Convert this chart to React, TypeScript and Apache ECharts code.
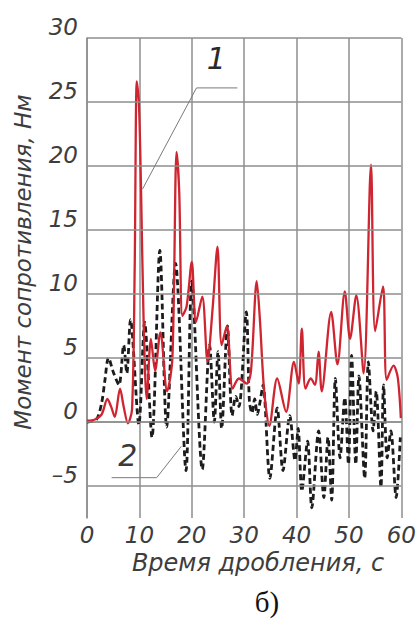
import React, { useEffect, useRef } from 'react';
import * as echarts from 'echarts';

// Tick values
const X_TICKS = [0, 10, 20, 30, 40, 50, 60];
const Y_GRID = [-5, 0, 5, 10, 15, 20, 25, 30];

// Curve 1 (red, solid): time, s / moment, Nm
const curve1Time = [0, 1.5, 2.8, 3.9, 4.6, 5.3, 6.3, 7.0, 7.8, 8.6, 9.1, 9.5, 9.9, 10.3, 10.8, 11.4, 12.2, 13.0, 14.0, 15.3, 16.3, 17.1, 17.6, 18.2, 19.0, 20.0, 20.8, 22.0, 23.0, 24.0, 24.9, 25.7, 26.7, 27.8, 29.0, 30.5, 31.3, 32.4, 33.0, 33.8, 34.8, 36.3, 38.0, 39.5, 40.4, 41.0, 41.7, 42.7, 43.5, 44.2, 44.8, 46.6, 47.8, 49.2, 50.2, 51.4, 52.8, 54.2, 55.0, 56.5, 57.2, 58.5, 59.3, 59.9];
const curve1Moment = [0.1, 0.2, 0.6, 1.8, 1.2, 0.4, 2.6, 1.2, -0.1, 1.0, 12, 26.6, 25, 18.5, 8, 1.8, 6.5, 4.0, 7.0, 2.4, 5.0, 21.1, 18, 8.3, 9.0, 12.5, 7.8, 9.8, 4.7, 9.0, 13.7, 6.0, 7.5, 2.6, 3.4, 3.0, 4.0, 11.0, 8.0, 2.5, -0.3, 3.4, 0.8, 4.7, 3.0, 7.3, 2.6, 3.4, 2.9, 5.5, 2.4, 8.6, 4.5, 10.2, 6.5, 9.9, 3.8, 20.1, 7.1, 10.6, 3.3, 4.4, 3.5, 0.3];

// Curve 2 (black, dashed)
const curve2Time = [0, 1.8, 2.8, 3.4, 4.1, 5.1, 6.1, 7.0, 7.6, 8.3, 9.9, 11.0, 12.4, 13.9, 15.2, 16.9, 18.9, 20.0, 22.0, 23.4, 24.3, 25.0, 25.7, 26.8, 27.7, 28.4, 29.0, 30.4, 31.0, 31.5, 32.0, 32.5, 33.0, 33.6, 34.9, 36.3, 37.4, 38.7, 39.7, 40.3, 41.0, 42.1, 42.9, 44.2, 45.2, 46.0, 46.7, 47.4, 48.3, 49.2, 49.9, 50.5, 51.3, 51.9, 53.0, 53.7, 54.6, 55.2, 56.1, 56.6, 57.3, 58.0, 59.0, 59.8];
const curve2Moment = [0, 0.2, 1.5, 3.2, 5.0, 3.8, 2.9, 6.0, 3.8, 8.0, -0.2, 7.8, -1.2, 13.4, -0.4, 12.4, -3.8, 11.0, -3.7, 6.0, 0.0, 5.5, -0.5, 7.5, 0.5, 2.0, 1.2, 8.6, 1.6, 0.7, 1.8, 0.6, 1.5, 2.9, -4.4, 1.1, -3.8, 0.5, -3.0, -0.5, -5.4, -1.5, -6.7, -0.7, -5.9, -1.2, -6.1, 3.4, -2.8, 1.9, -3.3, 5.2, -3.3, 3.6, -4.4, 4.7, -0.7, 2.4, -5.1, 2.9, -2.8, -0.7, -5.9, -1.2];

// Annotation anchors (data coordinates)
const leader1 = [[10.6, 18.2], [20.9, 26.1], [28.7, 26.1]];
const leader2 = [[4.7, -4.35], [13.3, -4.35], [18.0, -1.9]];
const label1At = [24.7, 28.4];
const label2At = [7.8, -2.6];

const zip = (a: number[], b: number[]) => a.map((t, i) => [t, b[i]]);

export default function App() {
  const ref = useRef<HTMLDivElement>(null);
  useEffect(() => {
    const chart = echarts.init(ref.current!, null, { renderer: 'svg' });
    const font = 'DejaVu Sans';
    const textColor = '#3d3d3d';
    const gridColor = '#8e8e8e';
    chart.setOption({
      animation: false,
      grid: { left: 87, right: 16, top: 38, bottom: 101 },
      xAxis: {
        type: 'value', min: 0, max: 60, interval: 10,
        axisLine: { show: true, lineStyle: { color: gridColor, width: 1.5 } },
        axisTick: { show: false },
        splitLine: { show: true, lineStyle: { color: gridColor, width: 1.5 } },
        axisLabel: {
          margin: 5, fontFamily: font, fontStyle: 'italic', fontSize: 23, color: textColor,
          formatter: (v: number) => (X_TICKS.includes(v) ? String(v) : ''),
        },
      },
      yAxis: {
        type: 'value', min: -7.5, max: 30, interval: 2.5,
        axisLine: { show: true, lineStyle: { color: gridColor, width: 1.5 } },
        axisTick: { show: false },
        splitLine: { show: false },
        axisLabel: {
          margin: 9, fontFamily: font, fontStyle: 'italic', fontSize: 23, color: textColor,
          verticalAlign: 'bottom',
          formatter: (v: number) => (Y_GRID.includes(v) ? String(v).replace('-', '–') : ''),
        },
      },
      series: [
        {
          type: 'line', data: [], silent: true, z: 1,
          markLine: {
            silent: true, symbol: 'none', label: { show: false },
            lineStyle: { color: gridColor, width: 1.5, type: 'solid' },
            data: Y_GRID.map((v) => ({ yAxis: v })),
          },
        },
        {
          type: 'line', data: zip(curve2Time, curve2Moment), showSymbol: false, z: 3,
          smooth: 0.3,
          lineStyle: { color: '#1c1c1c', width: 2.8, type: [6, 3.5] },
        },
        {
          type: 'line', data: zip(curve1Time, curve1Moment), showSymbol: false, z: 4,
          smooth: 0.3,
          lineStyle: { color: '#cf2530', width: 2.3 },
        },
        {
          type: 'line', data: leader1, showSymbol: false, z: 5, silent: true,
          lineStyle: { color: '#7a7a7a', width: 1 },
        },
        {
          type: 'line', data: leader2, showSymbol: false, z: 5, silent: true,
          lineStyle: { color: '#7a7a7a', width: 1 },
        },
      ],
    });
    const p1 = chart.convertToPixel({ gridIndex: 0 }, label1At) as number[];
    const p2 = chart.convertToPixel({ gridIndex: 0 }, label2At) as number[];
    chart.setOption({
      graphic: [
        {
          type: 'text', x: p1[0], y: p1[1],
          style: { text: '1', fontFamily: font, fontStyle: 'italic', fontSize: 30, fill: '#2a2a2a', align: 'center', verticalAlign: 'middle' },
        },
        {
          type: 'text', x: p2[0], y: p2[1],
          style: { text: '2', fontFamily: font, fontStyle: 'italic', fontSize: 30, fill: '#3a3a3a', align: 'center', verticalAlign: 'middle' },
        },
        {
          type: 'text', x: 23, y: 262, rotation: Math.PI / 2,
          style: { text: 'Момент сопротивления, Нм', fontFamily: font, fontStyle: 'italic', fontSize: 23, fill: textColor, align: 'center', verticalAlign: 'middle' },
        },
        {
          type: 'text', x: 258, y: 563,
          style: { text: 'Время дробления, с', fontFamily: font, fontStyle: 'italic', fontSize: 24, fill: textColor, align: 'center', verticalAlign: 'middle' },
        },
        {
          type: 'text', x: 267, y: 602,
          style: { text: 'б)', fontFamily: 'Liberation Serif', fontSize: 29, fill: '#111', align: 'center', verticalAlign: 'middle' },
        },
      ],
    });
    return () => chart.dispose();
  }, []);
  return <div ref={ref} style={{ position: 'fixed', left: 0, top: 0, width: 419, height: 619, background: '#fff' }} />;
}
